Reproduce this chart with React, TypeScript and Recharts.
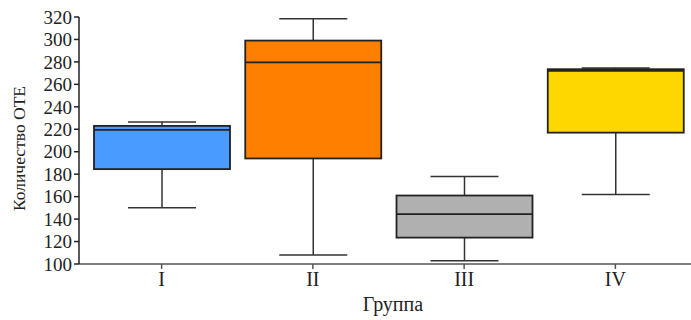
import React from 'react';
import { ComposedChart, Bar, XAxis, YAxis } from 'recharts';

const groups = ['I', 'II', 'III', 'IV'];
const mins = [150, 108, 103, 162];
const q1s = [184.5, 194, 123.5, 217];
const medians = [219.5, 279.5, 144.5, 272];
const q3s = [223, 299, 161, 273.5];
const maxs = [226.5, 318.5, 178, 274.5];
const colors = ['#4a9bff', '#ff7f00', '#b0b0b0', '#ffd700'];
const yTicks = [100, 120, 140, 160, 180, 200, 220, 240, 260, 280, 300, 320];
const xTitle = 'Группа';
const yTitle = 'Количество ОТЕ';

const data = groups.map((g, i) => ({
  group: g,
  range: [mins[i], maxs[i]],
  min: mins[i],
  q1: q1s[i],
  median: medians[i],
  q3: q3s[i],
  max: maxs[i],
}));

const FONT = '"Liberation Serif", "Times New Roman", serif';
const INK = '#222';

const BoxShape = (props: any) => {
  const { x, y, width, height, payload, index } = props;
  const lo = payload.min;
  const hi = payload.max;
  const py = (v: number) => y + ((hi - v) / (hi - lo)) * height;
  const cx = x + width / 2;
  const capHalf = width / 4;
  const fill = colors[index];
  return (
    <g>
      <line x1={cx} x2={cx} y1={py(hi)} y2={py(payload.q3)} stroke="#333" strokeWidth={1.5} />
      <line x1={cx} x2={cx} y1={py(payload.q1)} y2={py(lo)} stroke="#333" strokeWidth={1.5} />
      <line x1={cx - capHalf} x2={cx + capHalf} y1={py(hi)} y2={py(hi)} stroke="#333" strokeWidth={1.5} />
      <line x1={cx - capHalf} x2={cx + capHalf} y1={py(lo)} y2={py(lo)} stroke="#333" strokeWidth={1.5} />
      <rect
        x={x}
        y={py(payload.q3)}
        width={width}
        height={py(payload.q1) - py(payload.q3)}
        fill={fill}
        stroke={INK}
        strokeWidth={1.8}
      />
      <line x1={x} x2={x + width} y1={py(payload.median)} y2={py(payload.median)} stroke={INK} strokeWidth={1.8} />
    </g>
  );
};

const XTitle = (props: any) => {
  const vb = props.viewBox || {};
  const cx = vb.x + vb.width / 2 + 8;
  return (
    <text x={cx} y={vb.y + 47} textAnchor="middle" fill={INK} fontSize={20} fontFamily={FONT}>
      {xTitle}
    </text>
  );
};

const YTitle = (props: any) => {
  const vb = props.viewBox || {};
  const cy = vb.y + vb.height / 2 + 8;
  const x = 25;
  return (
    <text
      x={x}
      y={cy}
      transform={`rotate(-90, ${x}, ${cy})`}
      textAnchor="middle"
      fill={INK}
      fontSize={17.5}
      fontFamily={FONT}
    >
      {yTitle}
    </text>
  );
};

export default function App() {
  return (
    <div style={{ position: 'absolute', left: 0, top: 0, background: '#fff' }}>
      <ComposedChart
        width={691}
        height={320}
        data={data}
        margin={{ top: 17, right: 0, bottom: 16, left: 0 }}
        barCategoryGap={8}
      >
        <XAxis
          dataKey="group"
          height={40}
          padding={{ left: 7, right: 0 }}
          axisLine={{ stroke: '#555', strokeWidth: 1.5 }}
          tickLine={{ stroke: '#555', strokeWidth: 1.5 }}
          tickSize={5}
          tick={{ fill: INK, fontSize: 20, fontFamily: FONT, dy: 1 }}
          label={<XTitle />}
        />
        <YAxis
          width={79}
          domain={[100, 320]}
          ticks={yTicks}
          interval={0}
          allowDataOverflow
          axisLine={{ stroke: '#222', strokeWidth: 1.5 }}
          tickLine={{ stroke: '#222', strokeWidth: 1.5 }}
          tickSize={5}
          tick={{ fill: INK, fontSize: 19, fontFamily: FONT }}
          label={<YTitle />}
        />
        <Bar dataKey="range" barSize={136} shape={BoxShape} isAnimationActive={false} />
      </ComposedChart>
    </div>
  );
}
